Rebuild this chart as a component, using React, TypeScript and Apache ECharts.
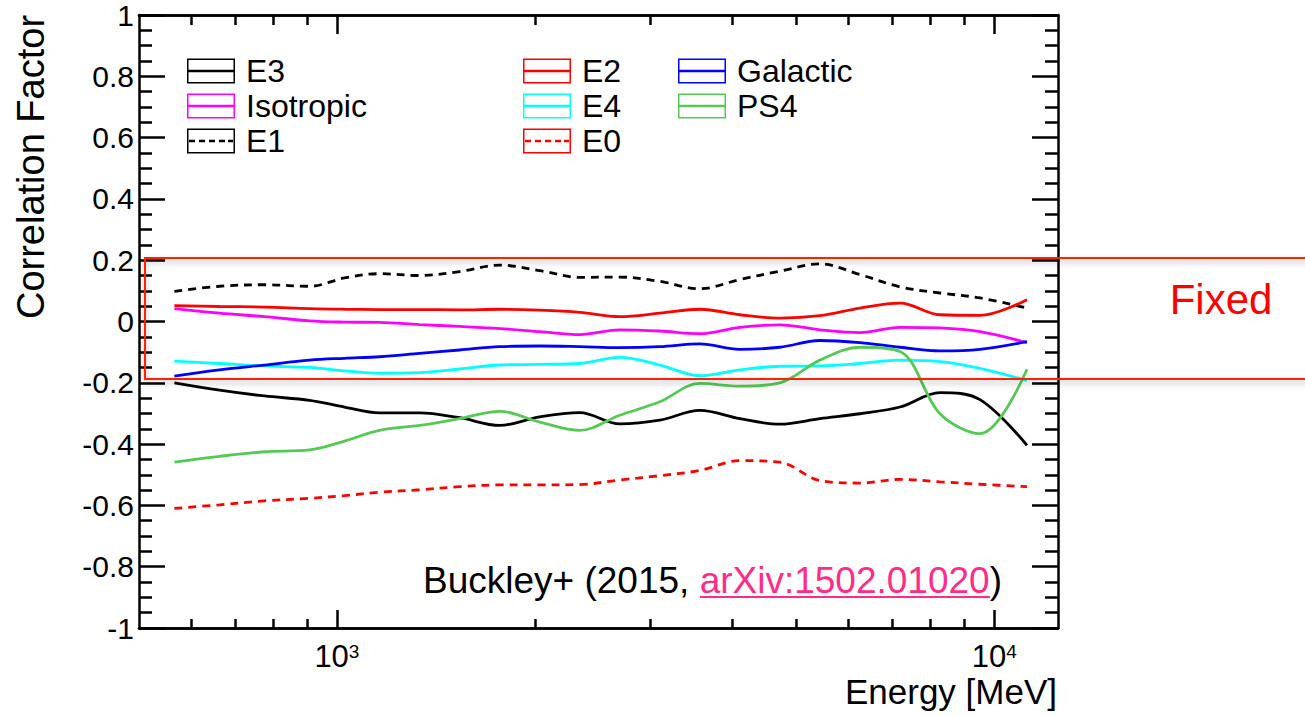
import React, { useEffect, useRef } from 'react';
import * as echarts from 'echarts';

// Energy grid (MeV) at which the curves were read
const ENERGY = [566, 663, 776, 909, 1027, 1161, 1336, 1537, 1769, 2035, 2341, 2693, 3099, 3565, 4102, 4719, 5429, 6247, 7187, 8268, 9511, 11213];

const E3 = [-0.200, -0.224, -0.243, -0.257, -0.279, -0.298, -0.298, -0.314, -0.339, -0.311, -0.297, -0.334, -0.322, -0.290, -0.317, -0.335, -0.317, -0.301, -0.279, -0.232, -0.255, -0.404];
const E1 = [0.098, 0.115, 0.120, 0.115, 0.142, 0.156, 0.150, 0.163, 0.184, 0.166, 0.144, 0.145, 0.131, 0.107, 0.137, 0.164, 0.188, 0.153, 0.113, 0.093, 0.077, 0.044];
const E2 = [0.052, 0.049, 0.047, 0.042, 0.040, 0.039, 0.039, 0.038, 0.040, 0.037, 0.030, 0.016, 0.027, 0.040, 0.022, 0.011, 0.019, 0.044, 0.060, 0.022, 0.020, 0.071];
const ISOTROPIC = [0.042, 0.027, 0.016, 0.002, -0.002, -0.003, -0.010, -0.016, -0.023, -0.033, -0.043, -0.027, -0.031, -0.040, -0.019, -0.011, -0.027, -0.036, -0.019, -0.021, -0.033, -0.069];
const GALACTIC = [-0.178, -0.158, -0.142, -0.126, -0.120, -0.115, -0.104, -0.093, -0.082, -0.080, -0.082, -0.085, -0.082, -0.073, -0.091, -0.084, -0.062, -0.069, -0.084, -0.096, -0.091, -0.066];
const E4 = [-0.129, -0.137, -0.145, -0.150, -0.161, -0.169, -0.167, -0.155, -0.142, -0.140, -0.137, -0.117, -0.142, -0.177, -0.158, -0.146, -0.145, -0.137, -0.126, -0.131, -0.153, -0.193];
const PS4 = [-0.459, -0.440, -0.425, -0.419, -0.390, -0.355, -0.339, -0.317, -0.293, -0.328, -0.355, -0.306, -0.262, -0.202, -0.211, -0.200, -0.126, -0.084, -0.098, -0.301, -0.366, -0.156];
const E0 = [-0.610, -0.598, -0.585, -0.577, -0.568, -0.557, -0.549, -0.539, -0.533, -0.533, -0.532, -0.517, -0.503, -0.486, -0.454, -0.459, -0.519, -0.527, -0.515, -0.523, -0.531, -0.539];

const X_MAJOR = [1000, 10000];
const X_MINOR = [600, 700, 800, 900, 2000, 3000, 4000, 5000, 6000, 7000, 8000, 9000];

const LEGEND_COL1 = ['E3', 'Isotropic', 'E1'];
const LEGEND_COL2 = ['E2', 'E4', 'E0'];
const LEGEND_COL3 = ['Galactic', 'PS4'];

const SERIES_DEFS = [
  { name: 'E3', values: E3, color: '#000000', dashed: false },
  { name: 'Isotropic', values: ISOTROPIC, color: '#FF00FF', dashed: false },
  { name: 'E1', values: E1, color: '#000000', dashed: true },
  { name: 'E2', values: E2, color: '#FF0000', dashed: false },
  { name: 'E4', values: E4, color: '#00FFFF', dashed: false },
  { name: 'E0', values: E0, color: '#FF0000', dashed: true },
  { name: 'Galactic', values: GALACTIC, color: '#0000FF', dashed: false },
  { name: 'PS4', values: PS4, color: '#55C855', dashed: false },
];

const FONT = '"Liberation Sans", Arial, Helvetica, sans-serif';

const SOLID_ICON = 'path://M0,0H48V25H0Z M1.5,1.5V23.5H46.5V1.5Z M0,11.25H48V13.75H0Z';
const DASH_ICON = 'path://M0,0H48V25H0Z M1.5,1.5V23.5H46.5V1.5Z M2,11.25H8V13.75H2Z M12,11.25H18V13.75H12Z M22,11.25H28V13.75H22Z M32,11.25H38V13.75H32Z M41,11.25H46V13.75H41Z';

const axisLine = { show: true, onZero: false, lineStyle: { color: '#000', width: 2.5 } };

function makeLegend(names: string[], left: number) {
  return {
    orient: 'vertical',
    left,
    top: 55,
    padding: 0,
    itemWidth: 48,
    itemHeight: 25,
    itemGap: 3,
    selectedMode: false,
    itemStyle: { borderWidth: 0 },
    textStyle: { fontFamily: FONT, fontSize: 32, color: '#000', padding: [0, 0, 0, 6] },
    data: names.map((n) => {
      const def = SERIES_DEFS.find((s) => s.name === n)!;
      return { name: n, icon: def.dashed ? DASH_ICON : SOLID_ICON };
    }),
  };
}

function logX(position: string, ticks: number[], len: number, labels: boolean) {
  return {
    type: 'log',
    logBase: 10,
    min: 500,
    max: 12500,
    position,
    axisLine,
    splitLine: { show: false },
    minorTick: { show: false },
    axisTick: { show: true, inside: true, length: len, customValues: ticks, lineStyle: { color: '#000', width: 2.5 } },
    axisLabel: labels
      ? {
          show: true,
          customValues: ticks,
          margin: 14,
          formatter: (v: number) => `{a|10}{b|${Math.round(Math.log10(v))}}`,
          rich: {
            a: { fontFamily: FONT, fontSize: 31, color: '#000', lineHeight: 30, verticalAlign: 'bottom' },
            b: { fontFamily: FONT, fontSize: 19, color: '#000', lineHeight: 30, verticalAlign: 'top' },
          },
        }
      : { show: false },
  };
}

function valY(position: string, labels: boolean) {
  return {
    type: 'value',
    min: -1,
    max: 1,
    interval: 0.2,
    position,
    axisLine,
    splitLine: { show: false },
    axisTick: { show: true, inside: true, length: 26, lineStyle: { color: '#000', width: 2.5 } },
    minorTick: { show: true, splitNumber: 4, length: 13, lineStyle: { color: '#000', width: 2.5 } },
    axisLabel: labels
      ? { show: true, margin: 5, fontFamily: FONT, fontSize: 30, lineHeight: 24, padding: [4, 0, 0, 0], color: '#000' }
      : { show: false },
  };
}

export default function App() {
  const ref = useRef<HTMLDivElement>(null);
  useEffect(() => {
    const chart = echarts.init(ref.current!, null, { renderer: 'svg' });
    const option: any = {
      animation: false,
      backgroundColor: '#fff',
      grid: { left: 139, right: 247, top: 15, bottom: 87 },
      xAxis: [
        logX('bottom', X_MAJOR, 18, true),
        logX('bottom', X_MINOR, 9, false),
        logX('top', X_MAJOR, 19, false),
        logX('top', X_MINOR, 10, false),
      ],
      yAxis: [valY('left', true), valY('right', false)],
      legend: [makeLegend(LEGEND_COL1, 187), makeLegend(LEGEND_COL2, 523), makeLegend(LEGEND_COL3, 678)],
      series: SERIES_DEFS.map((s) => ({
        name: s.name,
        type: 'line',
        xAxisIndex: 0,
        yAxisIndex: 0,
        smooth: 0.35,
        symbol: 'none',
        color: s.color,
        lineStyle: { color: s.color, width: 2.8, type: s.dashed ? [8, 6] : 'solid' },
        data: ENERGY.map((e, i) => [e, s.values[i]]),
      })),
      graphic: [
        {
          type: 'text',
          x: 31,
          y: 167,
          rotation: Math.PI / 2,
          style: { text: 'Correlation Factor', fontFamily: FONT, fontSize: 38, fill: '#000', align: 'center', verticalAlign: 'middle' },
        },
        {
          type: 'text',
          x: 1057,
          y: 691,
          style: { text: 'Energy [MeV]', fontFamily: FONT, fontSize: 35, fill: '#000', align: 'right', verticalAlign: 'middle' },
        },
        {
          type: 'text',
          x: 423,
          y: 580,
          z: 50,
          style: {
            text: '{k|Buckley+ (2015, }{p|arXiv:1502.01020}{k|)}',
            verticalAlign: 'middle',
            rich: {
              k: { fontFamily: FONT, fontSize: 37, fill: '#000', color: '#000' },
              p: { fontFamily: FONT, fontSize: 37, fill: '#FF2D87', color: '#FF2D87' },
            },
          },
        },
        {
          type: 'line',
          z: 50,
          shape: { x1: 700, y1: 597, x2: 990, y2: 597 },
          style: { stroke: '#FF2D87', lineWidth: 2 },
        },
        {
          type: 'rect',
          z: 100,
          shape: { x: 145, y: 258, width: 1200, height: 121 },
          style: {
            fill: 'none',
            stroke: '#FF2200',
            lineWidth: 2,
            shadowBlur: 6,
            shadowColor: 'rgba(0,0,0,0.35)',
            shadowOffsetY: 3,
          },
        },
        {
          type: 'text',
          x: 1221,
          y: 299,
          z: 100,
          style: { text: 'Fixed', fontFamily: FONT, fontSize: 42, fill: '#FF0000', align: 'center', verticalAlign: 'middle' },
        },
      ],
    };
    chart.setOption(option);
    return () => chart.dispose();
  }, []);
  return (
    <div
      ref={ref}
      style={{ position: 'fixed', left: 0, top: 0, width: 1305, height: 715, background: '#fff' }}
    />
  );
}
